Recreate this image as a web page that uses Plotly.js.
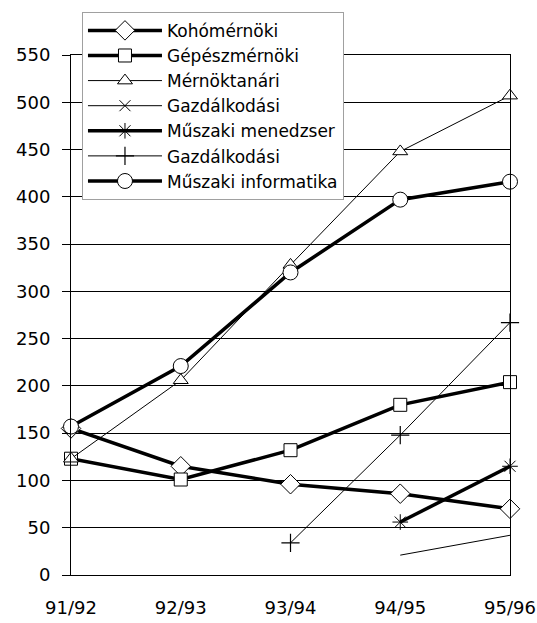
<!DOCTYPE html>
<html>
<head>
<meta charset="utf-8">
<script src="https://cdn.plot.ly/plotly-3.0.1.min.js"></script>
<style>html,body{margin:0;padding:0;background:#fff;}#chart{width:537px;height:623px;}</style>
</head>
<body>
<div id="chart"></div>
<script>
var years = ['91/92', '92/93', '93/94', '94/95', '95/96'];
var kohomernoki = [155, 115, 96, 86, 70];
var gepeszmernoki = [123, 101, 132, 180, 204];
var mernoktanari = [123, 206, 328, 448, 507];
var gazdalkodasi1 = [null, null, null, 21, 42];
var muszakiMenedzser = [null, null, null, 56, 115];
var gazdalkodasi2 = [null, null, 34, 148, 267];
var muszakiInformatika = [157, 221, 320, 397, 416];
var yTicks = [0, 50, 100, 150, 200, 250, 300, 350, 400, 450, 500, 550];

var openMarker = function (sym, size) {
  return {symbol: sym, size: size, color: '#ffffff', line: {color: '#000000', width: 1}};
};
var thick = {color: '#000000', width: 3.5};
var thin = {color: '#000000', width: 1};

var traces = [
  {x: years, y: kohomernoki, name: 'Kohómérnöki', mode: 'lines+markers', line: thick, marker: openMarker('diamond', 15)},
  {x: years, y: gepeszmernoki, name: 'Gépészmérnöki', mode: 'lines+markers', line: thick, marker: openMarker('square', 13)},
  {x: years, y: mernoktanari, name: 'Mérnöktanári', mode: 'lines+markers', line: thin, marker: openMarker('triangle-up', 13)},
  {x: years, y: gazdalkodasi1, name: 'Gazdálkodási', mode: 'lines', line: thin, showlegend: false},
  {x: [null], y: [null], name: 'Gazdálkodási', mode: 'lines+markers', line: thin, marker: {symbol: 'x-thin-open', size: 11, line: {color: '#000', width: 1}}},
  {x: years, y: muszakiMenedzser, name: 'Műszaki menedzser', mode: 'lines+markers', line: thick, marker: {symbol: 'asterisk-open', size: 13, line: {color: '#000', width: 1}}},
  {x: years, y: gazdalkodasi2, name: 'Gazdálkodási', mode: 'lines+markers', line: thin, marker: {symbol: 'cross-thin-open', size: 13, line: {color: '#000', width: 1.2}}},
  {x: years, y: muszakiInformatika, name: 'Műszaki informatika', mode: 'lines+markers', line: thick, marker: openMarker('circle', 15)}
];
traces.forEach(function (t) { t.cliponaxis = false; t.connectgaps = false; });

var layout = {
  width: 537, height: 623,
  margin: {l: 71, r: 27, t: 55, b: 48, pad: 0},
  paper_bgcolor: '#ffffff', plot_bgcolor: '#ffffff',
  font: {family: 'DejaVu Sans, Liberation Sans, sans-serif', size: 18, color: '#000000'},
  showlegend: true,
  legend: {
    x: 0.025, y: 1.083, xanchor: 'left', yanchor: 'top',
    bgcolor: '#ffffff', bordercolor: '#a0a0a0', borderwidth: 1,
    font: {size: 17}, tracegroupgap: 0, itemwidth: 74
  },
  xaxis: {
    type: 'category', range: [0, 4], showgrid: false, zeroline: false,
    showline: true, linecolor: '#000', linewidth: 1, mirror: true,
    ticks: '', ticklabelstandoff: 16, tickfont: {size: 18}
  },
  yaxis: {
    range: [0, 550], tickvals: yTicks, showgrid: true, gridcolor: '#000', gridwidth: 1,
    zeroline: false, showline: true, linecolor: '#000', linewidth: 1, mirror: true,
    ticks: 'outside', ticklen: 8, tickcolor: '#000', ticklabelstandoff: 8, tickfont: {size: 18}
  }
};

Plotly.newPlot('chart', traces, layout, {displayModeBar: false, staticPlot: true});
</script>
</body>
</html>
